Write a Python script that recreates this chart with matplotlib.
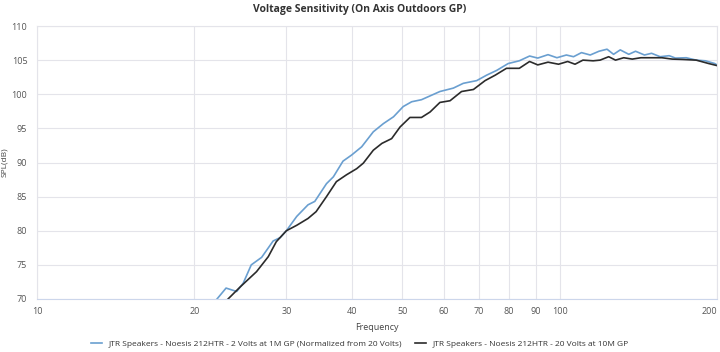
import matplotlib
matplotlib.use("Agg")
import matplotlib.pyplot as plt
from matplotlib.ticker import FixedLocator, NullLocator

plt.rcParams['font.family'] = ['Open Sans', 'DejaVu Sans']

# Datos
freq_2v = [22.1, 23.0, 24.1, 24.8, 25.7, 26.9, 28.3, 29.2, 30.0, 31.4, 33.0, 34.0,
           35.8, 36.9, 38.5, 40.0, 41.8, 44.0, 46.0, 48.1, 50.2, 52.1, 54.4, 59.0,
           62.6, 65.4, 69.4, 72.5, 75.8, 79.7, 83.7, 87.6, 90.8, 95.0, 98.8, 103.0,
           106.3, 110.1, 114.4, 118.9, 123.2, 126.8, 130.6, 135.6, 139.7, 145.3,
           149.9, 155.7, 162.0, 166.5, 174.7, 182.5, 190.1, 198.0, 200.0]
spl_2v = [70.0, 71.6, 71.1, 72.3, 75.0, 76.1, 78.5, 79.0, 80.0, 82.1, 83.8, 84.3,
          86.9, 87.9, 90.2, 91.1, 92.3, 94.5, 95.7, 96.7, 98.2, 98.9, 99.2, 100.4,
          100.9, 101.6, 102.0, 102.8, 103.5, 104.5, 104.9, 105.6, 105.3, 105.8, 105.35,
          105.75, 105.5, 106.1, 105.75, 106.3, 106.6, 105.85, 106.5, 105.85, 106.3,
          105.75, 106.0, 105.5, 105.65, 105.3, 105.35, 105.0, 104.9, 104.5, 104.3]

freq_20v = [23.2, 24.5, 26.3, 27.7, 28.7, 30.0, 31.4, 33.0, 34.2, 35.8, 37.4, 39.1,
            40.9, 42.1, 44.0, 45.7, 47.7, 49.5, 51.7, 54.4, 56.5, 59.0, 61.7, 64.9,
            68.4, 72.0, 75.3, 79.1, 83.7, 87.6, 90.8, 95.0, 99.5, 103.6, 107.0, 110.8,
            115.9, 119.5, 124.1, 127.9, 132.6, 137.7, 143.0, 149.9, 156.9, 164.2,
            171.9, 182.5, 192.8, 200.0]
spl_20v = [70.0, 71.8, 74.0, 76.2, 78.4, 80.0, 80.8, 81.8, 82.8, 85.0, 87.2, 88.2,
           89.1, 89.9, 91.8, 92.8, 93.5, 95.2, 96.6, 96.6, 97.4, 98.8, 99.05, 100.4,
           100.7, 102.0, 102.8, 103.8, 103.8, 104.8, 104.3, 104.7, 104.4, 104.8, 104.4,
           105.0, 104.9, 105.0, 105.5, 105.0, 105.35, 105.15, 105.35, 105.35, 105.35,
           105.15, 105.1, 105.0, 104.5, 104.2]

label_2v = "JTR Speakers - Noesis 212HTR - 2 Volts at 1M GP (Normalized from 20 Volts)"
label_20v = "JTR Speakers - Noesis 212HTR - 20 Volts at 10M GP"

x_ticks = [10, 20, 30, 40, 50, 60, 70, 80, 90, 100, 200]
y_ticks = [70, 75, 80, 85, 90, 95, 100, 105, 110]

fig = plt.figure(figsize=(7.2, 3.52), dpi=100)
ax = fig.add_axes([37 / 720, 1 - 299 / 352, 680 / 720, 273 / 352])

ax.plot(freq_2v, spl_2v, color='#6a9fd0', lw=1.2, label=label_2v)
ax.plot(freq_20v, spl_20v, color='#2b2b2b', lw=1.2, label=label_20v)

ax.set_xscale('log')
ax.set_xlim(10, 200)
ax.set_ylim(70, 110)
ax.xaxis.set_major_locator(FixedLocator(x_ticks))
ax.xaxis.set_minor_locator(NullLocator())
ax.set_xticklabels([str(t) for t in x_ticks])
ax.set_yticks(y_ticks)
ax.get_xticklabels()[-1].set_ha('right')

ax.grid(True, color='#e4e4ea', lw=0.8)
ax.set_axisbelow(True)
for s in ['top', 'right', 'left']:
    ax.spines[s].set_color('#e4e4ea')
ax.spines['bottom'].set_color('#ccd6eb')
ax.tick_params(axis='both', length=0, labelsize=6.5, colors='#555555', pad=7)
ax.tick_params(axis='x', pad=6)

ax.set_xlabel("Frequency", fontsize=6.5, color='#444444', labelpad=5)
ax.set_ylabel("SPL(dB)", fontsize=6, color='#444444')
ax.yaxis.set_label_coords(-0.042, 0.5)
fig.suptitle("Voltage Sensitivity (On Axis Outdoors GP)", fontsize=7.5,
             fontweight='bold', color='#333333', y=0.99)

fig.legend(loc='lower center', ncol=2, frameon=False, fontsize=6,
           bbox_to_anchor=(0.5, -0.01), handlelength=1.3, columnspacing=1.5,
           labelcolor='#333333')

fig.savefig("out.png", dpi=100)
